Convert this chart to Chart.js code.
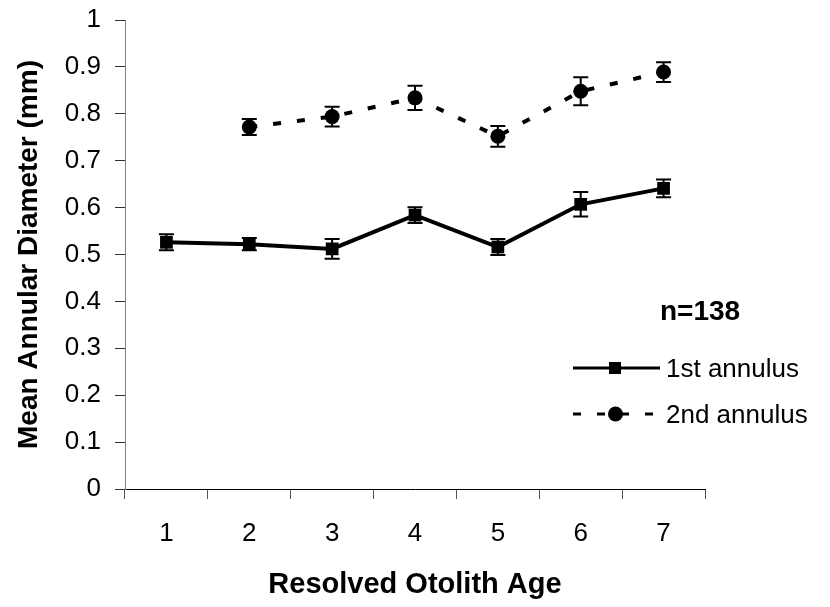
<!DOCTYPE html>
<html>
<head>
<meta charset="utf-8">
<script src="https://cdn.jsdelivr.net/npm/chart.js@4"></script>
<style>
  html, body { margin: 0; padding: 0; background: #fff; }
  #wrap { width: 830px; height: 607px; }
</style>
</head>
<body>
<div id="wrap"><canvas id="chart" width="830" height="607"></canvas></div>
<script>
// otolith ages and mean annulus diameters (mm) with error bar half-widths
const ages = ["1", "2", "3", "4", "5", "6", "7"];
const firstMean = [0.526, 0.522, 0.512, 0.584, 0.516, 0.607, 0.641];
const firstErr = [0.017, 0.013, 0.021, 0.017, 0.017, 0.026, 0.019];
const secondMean = [null, 0.772, 0.794, 0.834, 0.752, 0.848, 0.889];
const secondErr = [null, 0.017, 0.021, 0.026, 0.022, 0.030, 0.021];
const yTicks = [0, 0.1, 0.2, 0.3, 0.4, 0.5, 0.6, 0.7, 0.8, 0.9, 1];
const sampleSize = "n=138";

const FONT = "'Liberation Sans', Arial, sans-serif";

// vertical error bars with caps
const errorBars = {
  id: "errorBars",
  afterDatasetsDraw(chart) {
    const ctx = chart.ctx;
    const y = chart.scales.y;
    ctx.save();
    ctx.strokeStyle = "#000";
    ctx.lineWidth = 2;
    chart.data.datasets.forEach((ds, i) => {
      const meta = chart.getDatasetMeta(i);
      meta.data.forEach((pt, j) => {
        const v = ds.data[j];
        const e = ds.errors[j];
        if (v == null || e == null) return;
        const top = y.getPixelForValue(v + e);
        const bot = y.getPixelForValue(v - e);
        ctx.beginPath();
        ctx.moveTo(pt.x, top); ctx.lineTo(pt.x, bot);
        ctx.moveTo(pt.x - 7.5, top); ctx.lineTo(pt.x + 7.5, top);
        ctx.moveTo(pt.x - 7.5, bot); ctx.lineTo(pt.x + 7.5, bot);
        ctx.stroke();
      });
    });
    ctx.restore();
  }
};

// sample size note and the legend, drawn at the right of the plot
const sideNotes = {
  id: "sideNotes",
  afterDraw(chart) {
    const ctx = chart.ctx;
    ctx.save();
    ctx.fillStyle = "#000";
    ctx.textBaseline = "middle";
    ctx.textAlign = "left";
    ctx.font = "bold 28px " + FONT;
    ctx.fillText(sampleSize, 660, 312);

    const rows = [368, 414];
    chart.data.datasets.forEach((ds, i) => {
      const yy = rows[i];
      ctx.strokeStyle = ds.borderColor;
      ctx.lineWidth = 3;
      ctx.setLineDash(ds.borderDash || []);
      ctx.beginPath();
      ctx.moveTo(573, yy); ctx.lineTo(660, yy);
      ctx.stroke();
      ctx.setLineDash([]);
      ctx.fillStyle = "#000";
      if (ds.pointStyle === "rect") {
        ctx.fillRect(609, yy - 6, 12, 12);
      } else {
        ctx.beginPath();
        ctx.arc(615.5, yy, 7.5, 0, Math.PI * 2);
        ctx.fill();
      }
      ctx.font = "26px " + FONT;
      ctx.fillText(ds.label, 666, yy + 2);
    });
    ctx.restore();
  }
};

new Chart(document.getElementById("chart"), {
  type: "line",
  data: {
    labels: ages,
    datasets: [
      {
        label: "1st annulus",
        data: firstMean,
        errors: firstErr,
        borderColor: "#000",
        backgroundColor: "#000",
        borderWidth: 4,
        pointStyle: "rect",
        pointRadius: 9,
        pointBorderWidth: 0,
        tension: 0
      },
      {
        label: "2nd annulus",
        data: secondMean,
        errors: secondErr,
        borderColor: "#000",
        backgroundColor: "#000",
        borderWidth: 4,
        borderDash: [8, 16],
        pointStyle: "circle",
        pointRadius: 7.5,
        pointBorderWidth: 0,
        tension: 0
      }
    ]
  },
  options: {
    responsive: false,
    animation: false,
    layout: { padding: { top: 20, right: 125, left: 0, bottom: 0 } },
    plugins: {
      legend: { display: false },
      tooltip: { enabled: false }
    },
    scales: {
      x: {
        type: "category",
        offset: true,
        grid: {
          offset: true,
          drawOnChartArea: false,
          drawTicks: true,
          tickLength: 10,
          color: "#555"
        },
        border: { display: true, color: "#000", width: 1 },
        ticks: {
          color: "#000",
          font: { family: FONT, size: 26 },
          padding: 19,
          maxRotation: 0
        },
        title: {
          display: true,
          text: "Resolved Otolith Age",
          color: "#000",
          font: { family: FONT, size: 29, weight: "bold" },
          padding: { top: 6, bottom: 5 }
        },
        afterFit(scale) { scale.height = 118; }
      },
      y: {
        min: 0,
        max: 1,
        afterBuildTicks(scale) {
          scale.ticks = yTicks.map(v => ({ value: v }));
        },
        grid: {
          drawOnChartArea: false,
          drawTicks: true,
          tickLength: 10,
          color: "#333"
        },
        border: { display: true, color: "#808080", width: 1 },
        ticks: {
          color: "#000",
          font: { family: FONT, size: 26 },
          padding: 14,
          callback: v => String(+v.toFixed(1))
        },
        title: {
          display: true,
          text: "Mean Annular Diameter (mm)",
          color: "#000",
          font: { family: FONT, size: 28, weight: "bold" },
          padding: { top: 12, bottom: 4 }
        },
        afterFit(scale) {
          scale.width = 125;
          // keep the plot top fixed regardless of label height
          scale.paddingTop = 0;
          scale.paddingBottom = 0;
        }
      }
    }
  },
  plugins: [errorBars, sideNotes]
});
</script>
</body>
</html>
